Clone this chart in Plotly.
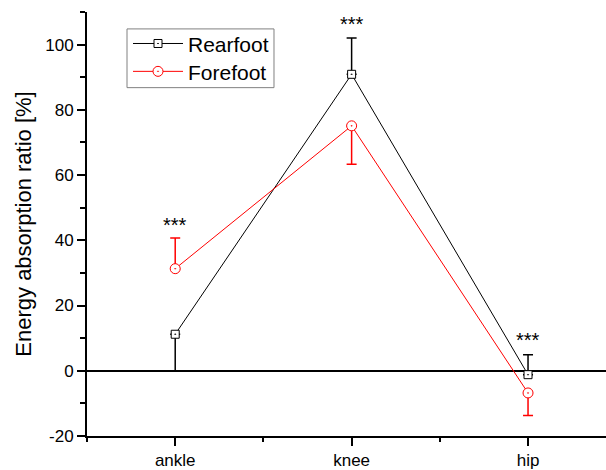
import plotly.graph_objects as go

categories = ["ankle", "knee", "hip"]
x_pos = [1, 2, 3]
rearfoot = [11.2, 90.9, -1.2]
rearfoot_err_plus = [0, 11.1, 6.1]
rearfoot_err_minus = [11.2, 0, 0]
forefoot = [31.3, 75.1, -6.8]
forefoot_err_plus = [9.4, 0, 0]
forefoot_err_minus = [0, 11.8, 6.9]
sig_labels = ["***", "***", "***"]
sig_y = [44.6, 106.3, 9.3]
y_tickvals = [-20, 0, 20, 40, 60, 80, 100]
y_ticktext = ["-20", "0", "20", "40", "60", "80", "100"]

FONT = "Liberation Sans, Arial, sans-serif"

fig = go.Figure()
fig.add_trace(go.Scatter(
    x=x_pos, y=rearfoot, name="Rearfoot", mode="lines+markers",
    line=dict(color="black", width=1),
    marker=dict(symbol="square-dot", size=8, color="white",
                line=dict(color="black", width=1)),
    error_y=dict(type="data", symmetric=False, array=rearfoot_err_plus,
                 arrayminus=rearfoot_err_minus, color="black",
                 thickness=1.5, width=5),
    legend="legend",
))
fig.add_trace(go.Scatter(
    x=x_pos, y=forefoot, name="Forefoot", mode="lines+markers",
    line=dict(color="#ff0000", width=1),
    marker=dict(symbol="circle-dot", size=10, color="white",
                line=dict(color="#ff0000", width=1)),
    error_y=dict(type="data", symmetric=False, array=forefoot_err_plus,
                 arrayminus=forefoot_err_minus, color="#ff0000",
                 thickness=1.5, width=5),
    legend="legend2",
))

for xv, yv, t in zip(x_pos, sig_y, sig_labels):
    fig.add_annotation(x=xv, y=yv, text=t, showarrow=False,
                       font=dict(size=20, color="black", family=FONT),
                       xanchor="center", yanchor="middle")

# legend frame
fig.add_shape(type="rect", xref="paper", yref="paper",
              x0=0.0771, x1=0.3603, y0=0.8216, y1=0.9601,
              line=dict(color="#808080", width=1), fillcolor="rgba(0,0,0,0)",
              layer="above")

leg_common = dict(xanchor="left", yanchor="middle", borderwidth=0,
                  bgcolor="rgba(0,0,0,0)",
                  font=dict(size=21, family=FONT, color="black"),
                  itemwidth=50)

fig.update_layout(
    width=606, height=470,
    margin=dict(l=87, r=0, t=12, b=32),
    plot_bgcolor="white", paper_bgcolor="white",
    font=dict(family=FONT, color="black"),
    showlegend=True,
    legend=dict(x=0.079, y=0.9249, **leg_common),
    legend2=dict(x=0.079, y=0.8592, **leg_common),
)
fig.update_xaxes(
    range=[0.5, 3.442], tickvals=x_pos, ticktext=categories,
    showline=True, linecolor="black", linewidth=2,
    ticks="outside", ticklen=8, tickwidth=1.5, tickcolor="black",
    tickfont=dict(size=17, family=FONT, color="black"),
    showgrid=False, zeroline=False,
    minor=dict(tickvals=[0.5, 1.5, 2.5, 3.5], ticks="outside", ticklen=4,
               tickwidth=1.5, tickcolor="black", showgrid=False),
)
fig.update_yaxes(
    range=[-20, 110], tickvals=y_tickvals, ticktext=y_ticktext,
    showline=True, linecolor="black", linewidth=2,
    ticks="outside", ticklen=8, tickwidth=1.5, tickcolor="black",
    tickfont=dict(size=17, family=FONT, color="black"),
    showgrid=False,
    zeroline=True, zerolinecolor="black", zerolinewidth=2,
    minor=dict(dtick=10, ticks="outside", ticklen=5, tickwidth=1.5,
               tickcolor="black", showgrid=False),
    title=dict(text="Energy absorption ratio [%]",
               font=dict(size=22, family=FONT, color="black"), standoff=8),
)

fig.write_html("out.html")
